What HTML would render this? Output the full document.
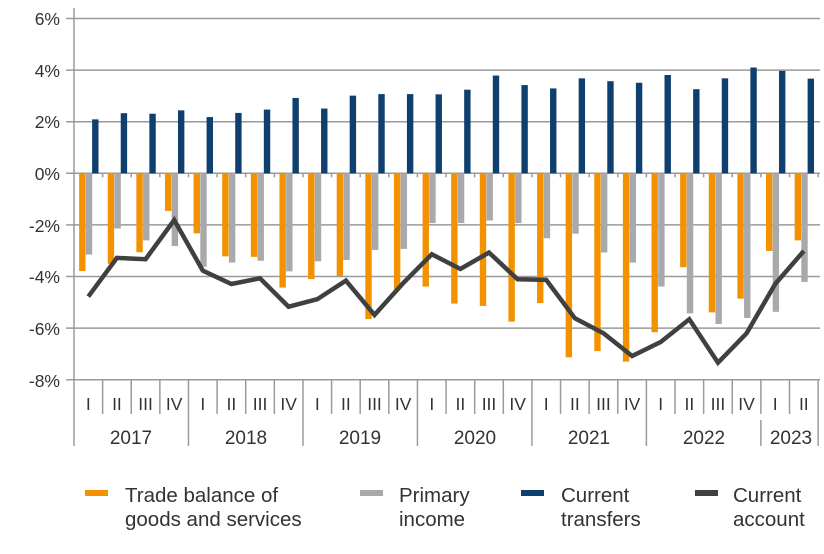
<!DOCTYPE html>
<html><head><meta charset="utf-8"><style>
body{margin:0;background:#fff}
svg{display:block;font-family:"Liberation Sans",sans-serif}
</style></head><body>
<svg id="c" width="824" height="554" viewBox="0 0 824 554" xmlns="http://www.w3.org/2000/svg">
<g id="grid" stroke="#9a9a9a" stroke-width="1.5"></g>
<g id="bars"></g>
<g id="axis" stroke="#9a9a9a" stroke-width="1.5"></g>
<g font-size="17.5" fill="#333" text-anchor="end">
<text x="60" y="25">6%</text><text x="60" y="77">4%</text><text x="60" y="128">2%</text>
<text x="60" y="180">0%</text><text x="60" y="232">-2%</text><text x="60" y="283">-4%</text>
<text x="60" y="335">-6%</text><text x="60" y="387">-8%</text>
</g>
<g id="ql" font-size="17.5" fill="#333" text-anchor="middle"></g>
<g font-size="19" fill="#333" text-anchor="middle">
<text x="131" y="444">2017</text><text x="246" y="444">2018</text><text x="360" y="444">2019</text>
<text x="475" y="444">2020</text><text x="589" y="444">2021</text><text x="704" y="444">2022</text>
<text x="791" y="444">2023</text>
</g>
<g font-size="20.5" fill="#333">
<rect x="85" y="490" width="23" height="6" fill="#f39200"/>
<text x="125" y="502">Trade balance of</text><text x="125" y="526">goods and services</text>
<rect x="360" y="490" width="23" height="6" fill="#a7a9ac"/>
<text x="399" y="502">Primary</text><text x="399" y="526">income</text>
<rect x="521" y="490" width="23" height="6" fill="#0e3f6e"/>
<text x="561" y="502">Current</text><text x="561" y="526">transfers</text>
<rect x="695" y="490" width="23" height="6" fill="#404040"/>
<text x="733" y="502">Current</text><text x="733" y="526">account</text>
</g>
</svg>
<script>
var NS="http://www.w3.org/2000/svg";
function el(p,t,a){var e=document.createElementNS(NS,t);for(var k in a)e.setAttribute(k,a[k]);document.getElementById(p).appendChild(e);return e;}
function Y(v){return 173.3-25.8*v;}
var x0=74,w=28.62,N=26;
for(var g=6;g>=-8;g-=2){el("grid","line",{x1:66,x2:820,y1:Y(g),y2:Y(g)});}
var tr=[-3.79,-3.51,-3.06,-1.46,-2.33,-3.22,-3.24,-4.43,-4.10,-3.98,-5.65,-4.50,-4.39,-5.05,-5.14,-5.75,-5.03,-7.13,-6.89,-7.30,-6.16,-3.64,-5.39,-4.86,-3.01,-2.60];
var pr=[-3.15,-2.14,-2.60,-2.82,-3.62,-3.46,-3.39,-3.80,-3.41,-3.36,-2.97,-2.93,-1.93,-1.93,-1.83,-1.93,-2.52,-2.34,-3.07,-3.46,-4.39,-5.43,-5.84,-5.61,-5.37,-4.21];
var ct=[2.09,2.33,2.31,2.44,2.18,2.34,2.47,2.92,2.51,3.01,3.07,3.07,3.06,3.24,3.79,3.42,3.29,3.68,3.57,3.51,3.81,3.26,3.68,4.10,3.97,3.67];
var ca=[-4.78,-3.28,-3.33,-1.81,-3.77,-4.29,-4.07,-5.17,-4.88,-4.16,-5.49,-4.26,-3.14,-3.71,-3.07,-4.11,-4.13,-5.62,-6.20,-7.08,-6.54,-5.66,-7.34,-6.20,-4.29,-3.01];
function bar(cx,v,col){var y=Y(v),z=Y(0);el("bars","rect",{x:cx-3.2,width:6.4,y:Math.min(y,z),height:Math.abs(y-z),fill:col});}
var pts=[];
var qn=["I","II","III","IV"];
for(var i=0;i<N;i++){var c=x0+w*(i+0.5);
bar(c-6,tr[i],"#f39200");bar(c+0.7,pr[i],"#a7a9ac");bar(c+7,ct[i],"#0e3f6e");
pts.push(c.toFixed(1)+","+Y(ca[i]).toFixed(1));
var t=el("ql","text",{x:c,y:410});t.textContent=qn[i%4];
var xb=x0+w*i;
if(i>0){ el("axis","line",{x1:xb,x2:xb,y1:Y(0),y2:Y(0)+4});
 if(i%4==0){ if(i==24){el("axis","line",{x1:xb,x2:xb,y1:Y(-8),y2:414});el("axis","line",{x1:xb,x2:xb,y1:420,y2:446});}
 else el("axis","line",{x1:xb,x2:xb,y1:Y(-8),y2:446});}
 else {el("axis","line",{x1:xb,x2:xb,y1:Y(-8),y2:414});}}
}
el("bars","polyline",{points:pts.join(" "),fill:"none",stroke:"#404040","stroke-width":4.5,"stroke-linejoin":"miter"});
el("axis","line",{x1:x0,x2:x0,y1:8,y2:446});
var xr=x0+w*N;el("axis","line",{x1:xr,x2:xr,y1:Y(0),y2:Y(0)+4});el("axis","line",{x1:xr,x2:xr,y1:Y(-8),y2:446});
</script>
</body></html>
